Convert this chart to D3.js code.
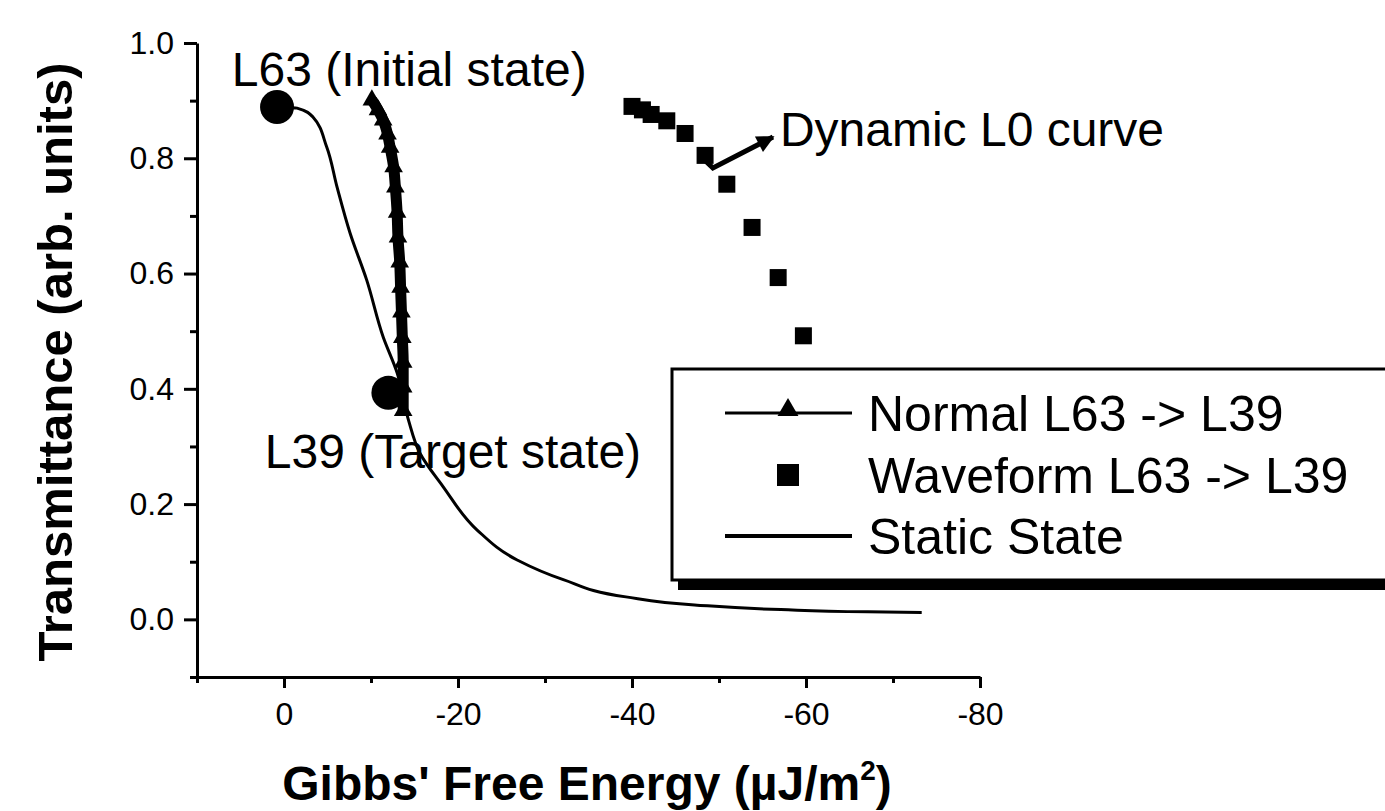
<!DOCTYPE html>
<html>
<head>
<meta charset="utf-8">
<script src="https://cdn.jsdelivr.net/npm/d3@7"></script>
<style>
    body { margin: 0; background: #fff; }
    svg { display: block; }
    text { font-family: "Liberation Sans", Arial, sans-serif; fill: #000; }
    .axis path, .axis line { stroke: #000; stroke-width: 3; }
</style>
</head>
<body>
<div id="chart"></div>
<script>
// Transmittance vs Gibbs' free energy

const width = 1385;
const height = 811;

// static state curve (thin line)
const staticX = [0.8, -1.5, -3.3, -4.9, -6.1, -7.6, -9.5, -11.4, -13.0, -14.3, -15.6, -18.3, -22.2, -26.8, -32.1, -39.3, -47.2, -57.1, -67.1, -73.3];
const staticY = [0.889, 0.887, 0.872, 0.820, 0.750, 0.670, 0.589, 0.490, 0.428, 0.346, 0.289, 0.230, 0.155, 0.103, 0.069, 0.039, 0.025, 0.017, 0.013, 0.012];

// normal L63 -> L39 (dense triangles)
const normalX = [-10.1, -10.8, -11.4, -11.9, -12.2, -12.6, -12.8, -13.0, -13.1, -13.3, -13.4, -13.5, -13.6, -13.7, -13.7, -13.7];
const normalY = [0.901, 0.884, 0.866, 0.842, 0.819, 0.785, 0.750, 0.706, 0.663, 0.620, 0.576, 0.533, 0.489, 0.446, 0.403, 0.362];

// waveform L63 -> L39 (squares)
const waveX = [-40.0, -41.2, -42.2, -44.0, -46.1, -48.4, -50.9, -53.8, -56.8, -59.7];
const waveY = [0.890, 0.884, 0.876, 0.865, 0.843, 0.805, 0.755, 0.680, 0.593, 0.492];

// state markers (L63, L39)
const stateX = [0.8, -12.0];
const stateY = [0.889, 0.393];

// ticks
const xMajorTicks = [0, -20, -40, -60, -80];
const xMinorTicks = [10, -10, -30, -50, -70];
const yMajorTicks = [0.0, 0.2, 0.4, 0.6, 0.8, 1.0];
const yMinorTicks = [-0.1, 0.1, 0.3, 0.5, 0.7, 0.9];

const legendLabels = ["Normal L63 -> L39", "Waveform L63 -> L39", "Static State"];

const x = d3.scaleLinear().domain([10, -80]).range([197, 980]);
const y = d3.scaleLinear().domain([-0.1, 1.0]).range([677, 43]);

const svg = d3.select("#chart").append("svg")
    .attr("width", width)
    .attr("height", height);

svg.append("rect")
    .attr("width", width)
    .attr("height", height)
    .attr("fill", "#fff");

const zip = (xs, ys) => xs.map((v, i) => [v, ys[i]]);

// axes
const xAxisGroup = svg.append("g")
    .attr("class", "axis")
    .attr("transform", `translate(0, ${y(-0.1)})`);
xAxisGroup.call(d3.axisBottom(x).tickValues(xMinorTicks).tickSize(6).tickSizeOuter(0).tickFormat(""));
xAxisGroup.append("g")
    .call(d3.axisBottom(x).tickValues(xMajorTicks).tickSize(11).tickSizeOuter(0).tickPadding(14).tickFormat(d => String(d)))
    .select(".domain").remove();

const yAxisGroup = svg.append("g")
    .attr("class", "axis")
    .attr("transform", `translate(${x(10)}, 0)`);
yAxisGroup.call(d3.axisLeft(y).tickValues(yMinorTicks).tickSize(7).tickSizeOuter(0).tickFormat(""));
yAxisGroup.append("g")
    .call(d3.axisLeft(y).tickValues(yMajorTicks).tickSize(13).tickSizeOuter(0).tickPadding(10).tickFormat(d => d.toFixed(1)))
    .select(".domain").remove();

svg.selectAll(".axis g").attr("font-family", null).attr("font-size", null);
svg.selectAll(".axis .tick text")
    .attr("fill", "#000")
    .style("font-size", "32px")
    .style("font-family", "'Liberation Sans', Arial, sans-serif");

// static state curve
svg.append("path")
    .datum(zip(staticX, staticY))
    .attr("fill", "none")
    .attr("stroke", "#000")
    .attr("stroke-width", 3)
    .attr("stroke-linejoin", "round")
    .attr("d", d3.line().x(d => x(d[0])).y(d => y(d[1])).curve(d3.curveMonotoneY));

// normal transition (thick band of triangles)
const normalData = zip(normalX, normalY);
svg.append("path")
    .datum(normalData)
    .attr("fill", "none")
    .attr("stroke", "#000")
    .attr("stroke-width", 11)
    .attr("d", d3.line().x(d => x(d[0])).y(d => y(d[1])).curve(d3.curveMonotoneY));
svg.append("g").selectAll("path")
    .data(normalData)
    .join("path")
    .attr("transform", d => `translate(${x(d[0])}, ${y(d[1])})`)
    .attr("d", d3.symbol(d3.symbolTriangle, 150))
    .attr("fill", "#000");

// state circles
svg.append("g").selectAll("circle")
    .data(zip(stateX, stateY))
    .join("circle")
    .attr("cx", d => x(d[0]))
    .attr("cy", d => y(d[1]))
    .attr("r", 17)
    .attr("fill", "#000");

// waveform squares
const sq = 17;
svg.append("g").selectAll("rect")
    .data(zip(waveX, waveY))
    .join("rect")
    .attr("x", d => x(d[0]) - sq / 2)
    .attr("y", d => y(d[1]) - sq / 2)
    .attr("width", sq)
    .attr("height", sq)
    .attr("fill", "#000");

// arrow to the dynamic curve
svg.append("defs").append("marker")
    .attr("id", "arrow")
    .attr("viewBox", "0 0 10 10")
    .attr("refX", 9)
    .attr("refY", 5)
    .attr("markerWidth", 7)
    .attr("markerHeight", 3.5)
    .attr("markerUnits", "strokeWidth")
    .attr("orient", "auto")
    .append("path")
    .attr("d", "M0,0 L10,5 L0,10 Z")
    .attr("fill", "#000");

svg.append("path")
    .datum([[-47.8, 0.805], [-49.3, 0.783], [-56.2, 0.837]])
    .attr("fill", "none")
    .attr("stroke", "#000")
    .attr("stroke-width", 5)
    .attr("stroke-linejoin", "miter")
    .attr("marker-end", "url(#arrow)")
    .attr("d", d3.line().x(d => x(d[0])).y(d => y(d[1])));

// annotations
const annotations = [
    { text: "L63 (Initial state)", ax: 6.0, ay: 0.925 },
    { text: "L39 (Target state)", ax: 2.2, ay: 0.263 },
    { text: "Dynamic L0 curve", ax: -57.0, ay: 0.822 }
];
svg.append("g").selectAll("text")
    .data(annotations)
    .join("text")
    .attr("x", d => x(d.ax))
    .attr("y", d => y(d.ay))
    .attr("font-size", 48)
    .text(d => d.text);

// axis titles
svg.append("text")
    .attr("x", 587)
    .attr("y", 800)
    .attr("text-anchor", "middle")
    .attr("font-size", 48)
    .attr("font-weight", "bold")
    .text("Gibbs' Free Energy (\u00b5J/m")
    .call(t => t.append("tspan").attr("font-size", 28).attr("dy", -20).text("2"))
    .call(t => t.append("tspan").attr("dy", 20).text(")"));

svg.append("text")
    .attr("transform", "translate(72, 362) rotate(-90)")
    .attr("text-anchor", "middle")
    .attr("font-size", 49)
    .attr("font-weight", "bold")
    .text("Transmittance (arb. units)");

// legend
const legend = svg.append("g").attr("class", "legend");
legend.append("rect")
    .attr("x", 678)
    .attr("y", 580)
    .attr("width", 720)
    .attr("height", 10)
    .attr("fill", "#000");
legend.append("rect")
    .attr("x", 672)
    .attr("y", 369)
    .attr("width", 740)
    .attr("height", 211)
    .attr("fill", "#fff")
    .attr("stroke", "#000")
    .attr("stroke-width", 3);

const rowY = [413, 475, 536];
const legendSq = 22;
legendLabels.forEach((label, i) => {
    const row = legend.append("g").attr("transform", `translate(0, ${rowY[i]})`);
    if (i !== 1) {
        row.append("line")
            .attr("x1", 725).attr("x2", 852)
            .attr("stroke", "#000")
            .attr("stroke-width", i === 2 ? 4 : 3);
    }
    if (i === 0) {
        row.append("path")
            .attr("transform", "translate(788, -3)")
            .attr("d", d3.symbol(d3.symbolTriangle, 190))
            .attr("fill", "#000");
    }
    if (i === 1) {
        row.append("rect")
            .attr("x", 788 - legendSq / 2).attr("y", -legendSq / 2)
            .attr("width", legendSq).attr("height", legendSq)
            .attr("fill", "#000");
    }
    row.append("text")
        .attr("x", 868)
        .attr("y", 18)
        .attr("font-size", 50)
        .text(label);
});
</script>
</body>
</html>
